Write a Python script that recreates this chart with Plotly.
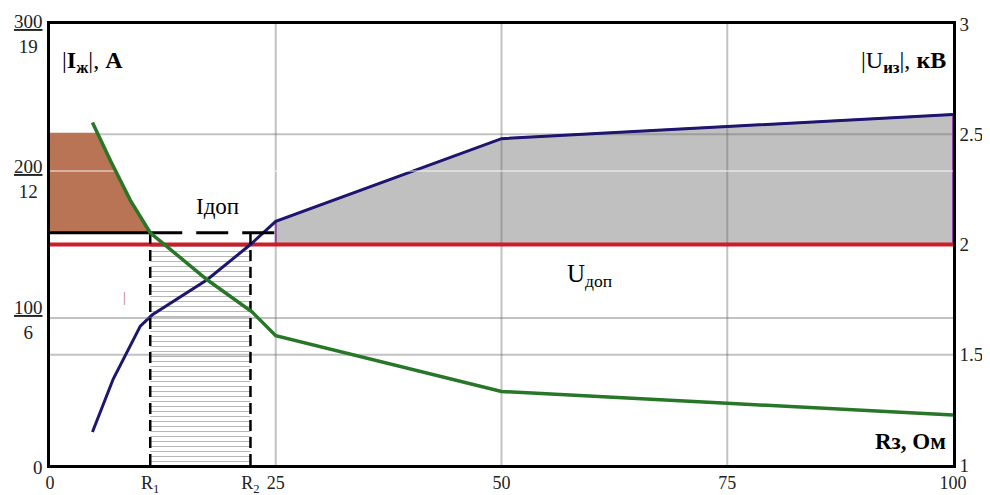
import numpy as np
import plotly.graph_objects as go

# ---- data ----
R1 = 11.1
R2 = 22.2
I_dop = 158
U_dop = 2.0
brown_top = 226

x_I = [4.7, 6.7, 8.9, 11.1, 17.4, 22.4, 25.0, 50.0, 75.0, 100.0]
I_zh = [233, 207, 180, 158, 126, 104, 88, 50, 42, 34]

x_U = [4.7, 7.0, 10.0, 11.3, 17.4, 22.2, 25.0, 50.0, 75.0, 100.0]
U_iz = [1.15, 1.39, 1.63, 1.68, 1.84, 2.0, 2.105, 2.48, 2.535, 2.59]

x_tickvals = [0, R1, R2, 25, 50, 75, 100]
x_ticktext = ["0", "R<sub>1</sub>", "R<sub>2</sub>", "25", "50", "75", "100"]
yL_tickvals = [0, 100, 200, 300]
yL_ticktext = ["0", "<u>100</u><br>6", "<u>200</u><br>12", "<u>300</u><br>19"]
yR_tickvals = [1, 1.5, 2, 2.5, 3]
yR_ticktext = ["1", "1.5", "2", "2.5", "3"]
x_grid = [25, 50, 75]
yR_grid = [1.5, 2.5]
yL_grid = [100]
yL_grid_light = [200]

FONT = "Liberation Serif"
BROWN = "rgb(184,116,84)"
GRAY = "rgb(192,192,192)"
GREEN = "rgb(40,118,40)"
NAVY = "rgb(28,22,110)"
RED = "rgb(204,30,42)"
GRID = "rgba(110,110,110,0.42)"

fig = go.Figure()

# ---------- traces on the right (U) axis: drawn first (base subplot) ----------
gx = [25] + [xv for xv in x_U if xv >= 25] + [100]
gy = [U_dop] + [u for xv, u in zip(x_U, U_iz) if xv >= 25] + [U_dop]
fig.add_trace(go.Scatter(x=gx, y=gy, yaxis="y2", fill="toself", fillcolor=GRAY,
                         mode="lines", line=dict(width=2, color="rgb(150,60,170)"),
                         hoverinfo="skip"))

fig.add_trace(go.Scatter(x=[R1, R2, R2, R1], y=[1, 1, U_dop, U_dop], yaxis="y2",
                         fill="toself", mode="lines", line=dict(width=0),
                         fillcolor="white",
                         fillpattern=dict(shape="-", size=5, solidity=0.2,
                                          fgcolor="#707070", bgcolor="white"),
                         hoverinfo="skip"))

for xv in x_grid:
    fig.add_trace(go.Scatter(x=[xv, xv], y=[1, 3], yaxis="y2", mode="lines",
                             line=dict(color=GRID, width=2), hoverinfo="skip"))
for yv in yR_grid:
    fig.add_trace(go.Scatter(x=[0, 100], y=[yv, yv], yaxis="y2", mode="lines",
                             line=dict(color=GRID, width=2), hoverinfo="skip"))

fig.add_trace(go.Scatter(x=[0, 100], y=[U_dop, U_dop], yaxis="y2", mode="lines",
                         line=dict(color=RED, width=4), hoverinfo="skip"))

fig.add_trace(go.Scatter(x=x_U, y=U_iz, yaxis="y2", mode="lines",
                         line=dict(color=NAVY, width=3), hoverinfo="skip"))

# ---------- traces on the left (I) axis: overlay subplot ----------
xi_top = float(np.interp(brown_top, I_zh[:4][::-1], x_I[:4][::-1]))
bx = [0, xi_top]
by = [brown_top, brown_top]
for xv, yv in zip(x_I, I_zh):
    if xi_top < xv <= R1:
        bx.append(xv); by.append(yv)
bx += [R1, 0]
by += [I_dop, I_dop]
fig.add_trace(go.Scatter(x=bx, y=by, yaxis="y", fill="toself", fillcolor=BROWN,
                         mode="lines", line=dict(width=0), hoverinfo="skip"))

for yv in yL_grid:
    fig.add_trace(go.Scatter(x=[0, 100], y=[yv, yv], yaxis="y", mode="lines",
                             line=dict(color=GRID, width=2), hoverinfo="skip"))
for yv in yL_grid_light:
    fig.add_trace(go.Scatter(x=[0, 100], y=[yv, yv], yaxis="y", mode="lines",
                             line=dict(color="rgba(255,255,255,0.45)", width=2),
                             hoverinfo="skip"))

fig.add_trace(go.Scatter(x=[0, R1], y=[I_dop, I_dop], yaxis="y", mode="lines",
                         line=dict(color="black", width=3), hoverinfo="skip"))
fig.add_trace(go.Scatter(x=[R1, 25], y=[I_dop, I_dop], yaxis="y", mode="lines",
                         line=dict(color="black", width=3, dash="32px,14px"),
                         hoverinfo="skip"))
for xv in [R1, R2]:
    fig.add_trace(go.Scatter(x=[xv, xv], y=[0, I_dop], yaxis="y", mode="lines",
                             line=dict(color="black", width=2.5, dash="11px,6px"),
                             hoverinfo="skip"))

fig.add_trace(go.Scatter(x=x_I, y=I_zh, yaxis="y", mode="lines",
                         line=dict(color=GREEN, width=3.5), hoverinfo="skip"))

# left-axis fraction labels as annotations (so each can sit like the original)
label_shift = {0: -2, 100: -2, 200: -8, 300: -10}
annotations = []
for v, t in zip(yL_tickvals, yL_ticktext):
    annotations.append(dict(text=t, xref="paper", yref="y", x=0, y=v,
                            xanchor="right", yanchor="middle", xshift=-5,
                            yshift=label_shift[v], showarrow=False,
                            font=dict(family=FONT, size=19, color="#222222")))

annotations += [
    dict(text="|<b>I<sub>ж</sub></b>|, <b>A</b>", xref="paper", yref="paper",
         x=0.011, y=0.914, xanchor="left", yanchor="middle", showarrow=False,
         font=dict(family=FONT, size=24, color="black")),
    dict(text="|U<b><sub>из</sub></b>|, <b>кВ</b>", xref="paper", yref="paper",
         x=0.994, y=0.914, xanchor="right", yanchor="middle", showarrow=False,
         font=dict(family=FONT, size=24, color="black")),
    dict(text="<b>Rз, Ом</b>", xref="paper", yref="paper",
         x=0.994, y=0.054, xanchor="right", yanchor="middle", showarrow=False,
         font=dict(family=FONT, size=23, color="black")),
    dict(text="Iдоп", xref="x", yref="y", x=18.6, y=176, showarrow=False,
         font=dict(family=FONT, size=23, color="black")),
    dict(text="U<sub>доп</sub>", xref="x", yref="y2", x=59.8, y=1.86,
         showarrow=False, font=dict(family=FONT, size=25, color="black")),
    dict(text="|", xref="x", yref="y", x=8.2, y=114, showarrow=False,
         font=dict(family=FONT, size=14, color=BROWN)),
]

# the page body adds an 8 px margin, so the figure is 8 px smaller on each side
fig.update_layout(
    width=982, height=487,
    margin=dict(l=42, r=37, t=16, b=30, autoexpand=False),
    paper_bgcolor="white", plot_bgcolor="white",
    showlegend=False,
    xaxis=dict(range=[0, 100], tickvals=x_tickvals, ticktext=x_ticktext,
               showgrid=False, zeroline=False, showline=True, mirror=True,
               linecolor="black", linewidth=2.5, ticks="",
               tickfont=dict(family=FONT, size=18, color="#222222"),
               automargin=False),
    yaxis2=dict(range=[1, 3], tickvals=yR_tickvals, ticktext=yR_ticktext,
                side="right", anchor="x", showgrid=False, zeroline=False,
                showline=True, mirror=True, linecolor="black", linewidth=2.5,
                ticks="", tickfont=dict(family=FONT, size=19, color="#222222"),
                automargin=False),
    yaxis=dict(range=[0, 300], tickvals=yL_tickvals, showticklabels=False,
               overlaying="y2", side="left", anchor="x",
               showgrid=False, zeroline=False, showline=False,
               ticks="", automargin=False),
    annotations=annotations,
)

fig.write_html("out.html")
